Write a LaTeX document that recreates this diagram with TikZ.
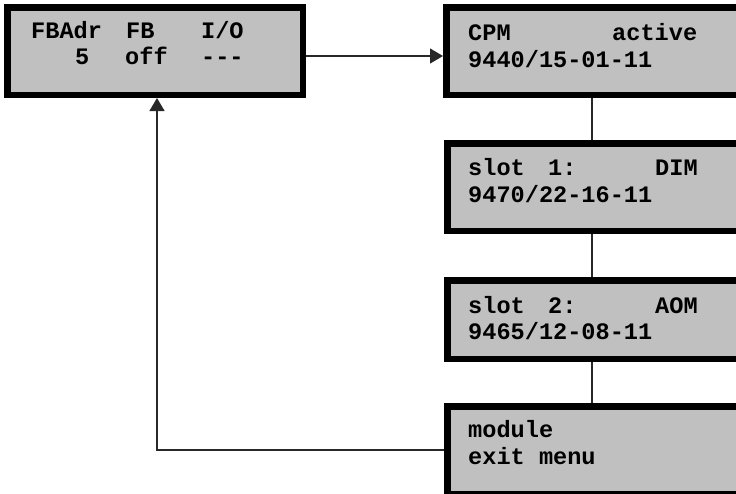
\documentclass[tikz,border=0pt]{standalone}
\usepackage{fontspec}
\setmonofont{Liberation Mono}
\usetikzlibrary{arrows.meta}
\definecolor{panelgray}{RGB}{192,192,192}
\definecolor{linkgray}{RGB}{40,40,40}
\begin{document}
\begin{tikzpicture}[x=1pt,y=-1pt,
  panel/.style={rectangle, draw=black, fill=panelgray, line width=6.5pt,
                inner sep=0pt, outer sep=3.25pt},
  lcd/.style={anchor=base west, inner sep=0pt,
              font=\fontsize{23.6}{27}\selectfont\ttfamily\bfseries},
  link/.style={draw=linkgray, line width=1.3pt},
  tip/.style={-{Triangle[length=13pt,width=15pt]}}]
\clip (0,0) rectangle (736,493);

% display panels
\node[panel, minimum width=295.5pt, minimum height=87.5pt] (fb)    at (155,51)    {};
\node[panel, minimum width=330.5pt, minimum height=87.5pt] (cpm)   at (611.5,51)  {};
\node[panel, minimum width=329.5pt, minimum height=87.5pt] (slotA) at (612,187)   {};
\node[panel, minimum width=329.5pt, minimum height=78.5pt] (slotB) at (612,319.5) {};
\node[panel, minimum width=329.5pt, minimum height=87.5pt] (exitm) at (612,450)   {};

% panel texts
\node[lcd] (fbA) at (31,38) {\makebox[95pt][l]{FBAdr}\makebox[75pt][l]{FB}I/O};
\node[lcd] (fbB) at (31,64) {\makebox[94pt][l]{\hspace*{44pt}5}\makebox[76pt][l]{off}-{}-{}-};

\node[lcd] (cpmA) at (468,40) {\makebox[144pt][l]{CPM}active};
\node[lcd] (cpmB) at (468,67) {9440/15-01-11};

\node[lcd] (slotAa) at (468,175) {\makebox[80pt][l]{slot}\makebox[107pt][l]{1:}DIM};
\node[lcd] (slotAb) at (468,202) {9470/22-16-11};

\node[lcd] (slotBa) at (468,313) {\makebox[80pt][l]{slot}\makebox[107pt][l]{2:}AOM};
\node[lcd] (slotBb) at (468,339) {9465/12-08-11};

\node[lcd] (exitA) at (468,437) {module};
\node[lcd] (exitB) at (468,464) {exit menu};

% connectors
\coordinate (sx) at (592,0);
\coordinate (rx) at (157,0);
\draw[link,tip] ([yshift=-5pt]fb.east) -- ([yshift=-5pt]cpm.west);
\draw[link] (cpm.south -| sx) -- (slotA.north -| sx);
\draw[link] (slotA.south -| sx) -- (slotB.north -| sx);
\draw[link] (slotB.south -| sx) -- (exitm.north -| sx);
\draw[link,tip] (exitm.west) -| (rx |- fb.south);
\end{tikzpicture}
\end{document}
